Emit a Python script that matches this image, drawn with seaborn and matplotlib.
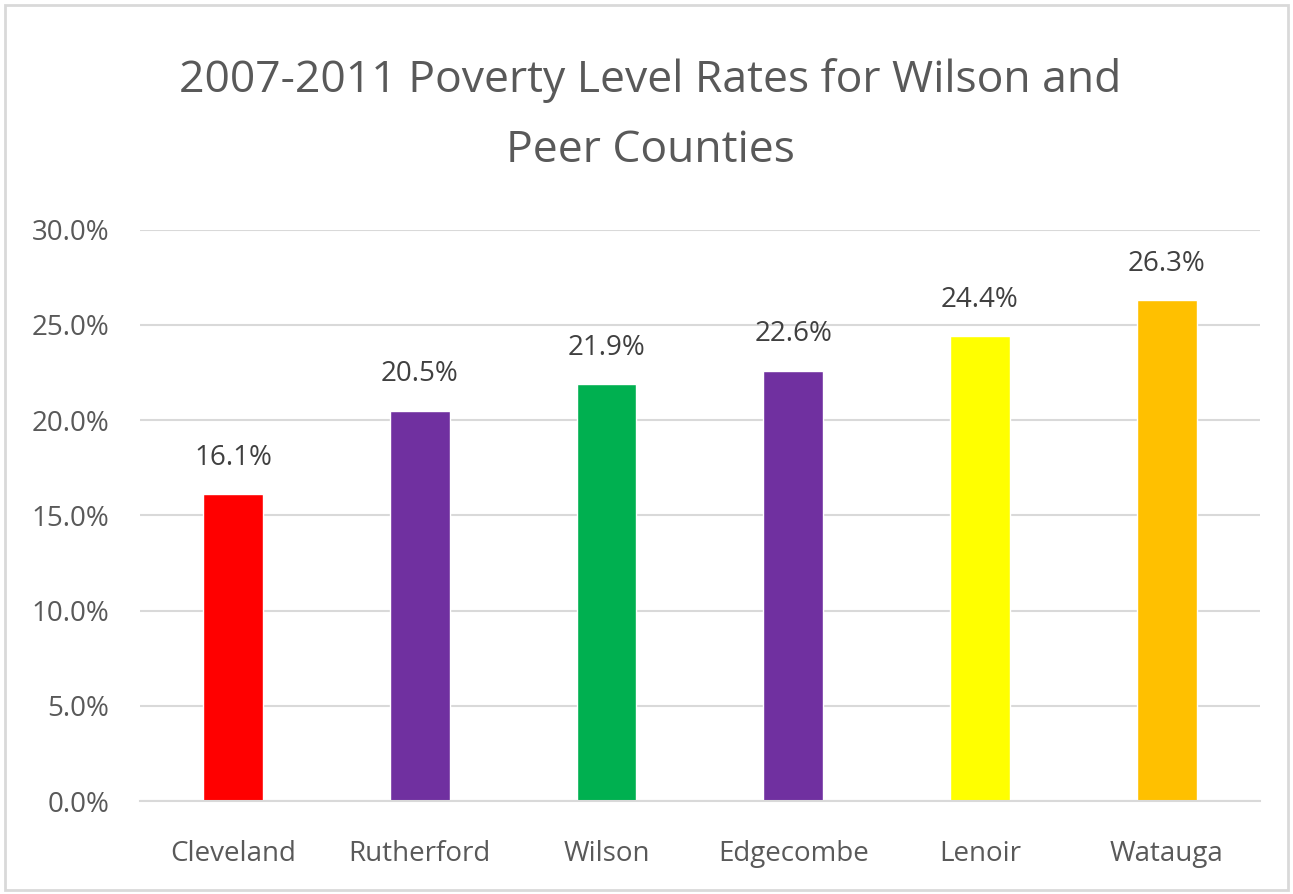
import matplotlib
matplotlib.use("Agg")
import matplotlib.pyplot as plt
import seaborn as sns
import pandas as pd
from matplotlib.patches import Rectangle
from matplotlib.ticker import FuncFormatter

counties = ["Cleveland", "Rutherford", "Wilson", "Edgecombe", "Lenoir", "Watauga"]
rates = [16.1, 20.5, 21.9, 22.6, 24.4, 26.3]
colors = ["#FF0000", "#7030A0", "#00B050", "#7030A0", "#FFFF00", "#FFC000"]
yticks = [0, 5, 10, 15, 20, 25, 30]
title = "2007-2011 Poverty Level Rates for Wilson and\nPeer Counties"

sns.set_theme(style="white")
plt.rcParams["font.family"] = ["Open Sans", "DejaVu Sans"]

df = pd.DataFrame({"county": counties, "rate": rates})

fig = plt.figure(figsize=(12.93, 8.94), dpi=100)
ax = fig.add_axes([0.108, 0.104, 0.8665, 0.639])

sns.barplot(data=df, x="county", y="rate", hue="county", palette=colors,
            width=0.32, legend=False, ax=ax, saturation=1)

ax.set_ylim(0, 30)
ax.set_xlim(-0.5, 5.5)
ax.set_yticks(yticks)
ax.yaxis.set_major_formatter(FuncFormatter(lambda v, p: f"{v:.1f}%"))
ax.grid(axis="y", color="#d9d9d9", linewidth=1.5)
ax.set_axisbelow(True)
for s in ["top", "right", "left"]:
    ax.spines[s].set_visible(False)
ax.spines["bottom"].set_color("#d9d9d9")
ax.spines["bottom"].set_linewidth(1.5)
ax.tick_params(axis="both", length=0, labelsize=20, colors="#595959")
ax.tick_params(axis="x", pad=28)
ax.tick_params(axis="y", pad=22)
ax.set_xlabel("")
ax.set_ylabel("")

for cont in ax.containers:
    ax.bar_label(cont, labels=[f"{v:.1f}%" for v in cont.datavalues],
                 padding=16, fontsize=20, color="#404040")

fig.text(0.503, 0.8706, title, ha="center", va="center", fontsize=32,
         color="#595959", linespacing=1.75)

fig.patches.append(Rectangle((0.004, 0.004), 0.992, 0.99, transform=fig.transFigure,
                             fill=False, edgecolor="#d9d9d9", linewidth=2))

fig.savefig("out.png", dpi=100)
